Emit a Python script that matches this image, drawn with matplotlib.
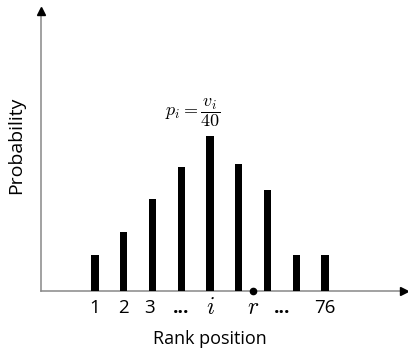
import numpy as np
import matplotlib.pyplot as plt

plt.rcParams["mathtext.fontset"] = "cm"
plt.rcParams["font.family"] = ["Open Sans", "DejaVu Sans"]

# bar heights (relative probability) for the shown rank positions
heights = [36, 59, 92, 124, 155, 127, 101, 36, 36]
tick_labels = ["1", "2", "3", "...", "$i$", "$r$", "...", "76"]
tick_slots = [0, 1, 2, 3, 4, 5.5, 6.5, 8]
marker_slot = 5.5

fig = plt.figure(figsize=(4.08, 3.54), dpi=100)
ax = fig.add_axes([0, 0, 1, 1])
ax.set_xlim(-3.304, 10.887)
ax.set_ylim(-63, 291)
ax.axis("off")

x = np.arange(len(heights))
ax.bar(x, heights, width=0.25, color="black", zorder=3)

# axis lines (grey) with black triangle heads
ax.plot([-1.878, 10.75], [0, 0], color="#888888", lw=1.1, clip_on=False)
ax.plot([-1.878, -1.878], [0, 280], color="#888888", lw=1.1, clip_on=False)
ax.plot([10.75], [0], marker=">", color="black", ms=6, clip_on=False)
ax.plot([-1.878], [280], marker="^", color="black", ms=6, clip_on=False)

ax.plot([marker_slot], [0], "o", color="black", ms=4.5, zorder=4)

for pos, lab in zip(tick_slots, tick_labels):
    ax.text(pos - (0.12 if lab == "3" else 0), -17, lab, ha="center",
            va="center", fontsize=17 if lab.startswith("$") else 13.5,
            fontweight="bold" if lab == "..." else "normal")

ax.text(3.4, 178, r"$p_i = \dfrac{v_i}{40}$", ha="center", va="center",
        fontsize=13)

ax.text(4.0, -48, "Rank position", ha="center", va="center", fontsize=13)
ax.text(-2.748, 146, "Probability", ha="center", va="center",
        rotation=90, fontsize=14)

fig.savefig("out.png", dpi=100)
